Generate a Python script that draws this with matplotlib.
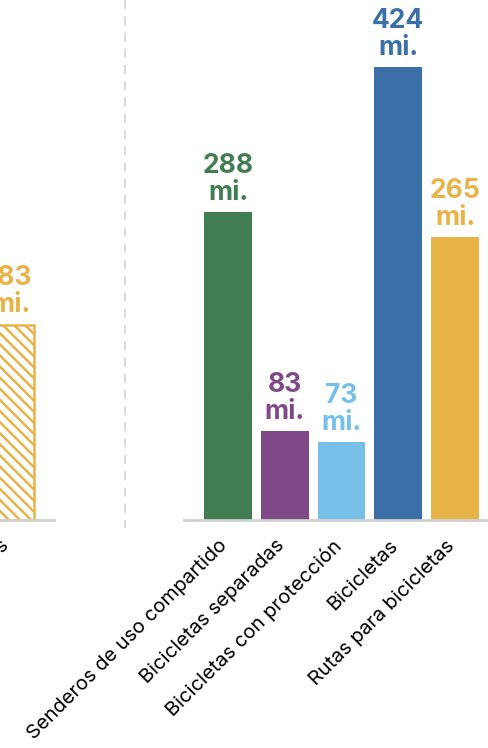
import numpy as np
import matplotlib.pyplot as plt
import matplotlib as mpl
from matplotlib.lines import Line2D
from matplotlib.transforms import ScaledTranslation

mpl.rcParams['font.family'] = ['Inter', 'DejaVu Sans']
mpl.rcParams['hatch.linewidth'] = 1.8

# datos
izq_cat = ['Carriles compartidos']
izq_val = [183]
izq_col = ['#E8B448']

cats = ['Senderos de uso compartido', 'Bicicletas separadas',
        'Bicicletas con protección', 'Bicicletas', 'Rutas para bicicletas']
vals = [288, 83, 73, 424, 265]
cols = ['#427D52', '#7F4886', '#76C0E8', '#3B6FA8', '#E8B448']

W, H = 489, 748
fig = plt.figure(figsize=(W / 100, H / 100), dpi=100)

y0 = (H - 520) / H
hy = 520 / H
ymax = 487

ax1 = fig.add_axes([-34 / W, y0, 88 / W, hy])
ax2 = fig.add_axes([184 / W, y0, 315 / W, hy])


def estilo(ax, n):
    ax.set_xlim(-0.775, n - 1 + 0.775)
    ax.set_ylim(0, ymax)
    for s in ['top', 'right', 'left']:
        ax.spines[s].set_visible(False)
    ax.spines['bottom'].set_color('#D0D0D0')
    ax.spines['bottom'].set_linewidth(2)
    ax.set_yticks([])
    ax.tick_params(axis='x', length=0, pad=12)


def etiquetas(ax, bars, vs, cs):
    for b, v, c in zip(bars, vs, cs):
        ax.annotate(f'{v}\nmi.', (b.get_x() + b.get_width() / 2, b.get_height()),
                    xytext=(0, 4.5), textcoords='offset points', ha='center', va='bottom',
                    fontsize=19, fontweight='bold', color=c, linespacing=1.05)


def correr(ax):
    for lab in ax.get_xticklabels():
        lab.set_transform(lab.get_transform() + ScaledTranslation(-7 / 72, 0, fig.dpi_scale_trans))


x1 = np.arange(len(izq_val))
b1 = ax1.bar(x1, izq_val, width=0.845, color='white', edgecolor=izq_col, hatch='\\\\\\',
             linewidth=1.8)
estilo(ax1, len(izq_val))
ax1.set_xticks(x1, izq_cat, rotation=45, ha='right', rotation_mode='anchor', fontsize=14.5)
correr(ax1)
etiquetas(ax1, b1, izq_val, izq_col)

x2 = np.arange(len(vals))
b2 = ax2.bar(x2, vals, width=0.845, color=cols)
estilo(ax2, len(vals))
ax2.set_xticks(x2, cats, rotation=45, ha='right', rotation_mode='anchor', fontsize=14.5)
correr(ax2)
etiquetas(ax2, b2, vals, cols)

fig.add_artist(Line2D([125 / W, 125 / W], [1, (H - 528) / H], transform=fig.transFigure,
                      color='#D8D8D8', lw=1.3, ls=(0, (5, 4))))

fig.savefig('out.png', dpi=100)
